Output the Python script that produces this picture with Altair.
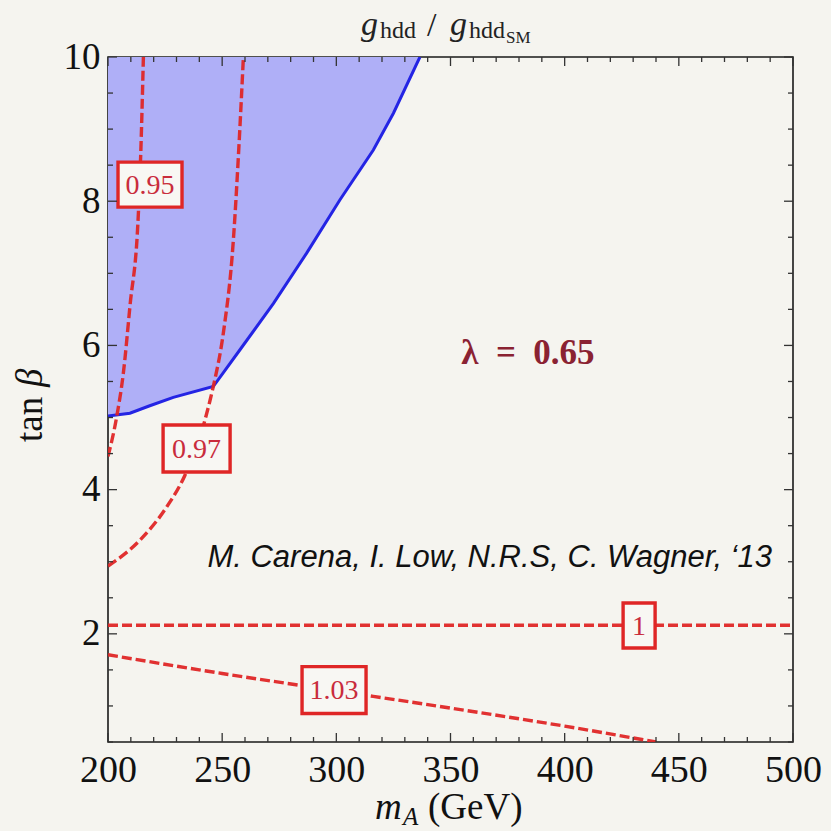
import altair as alt
import pandas as pd

# ---------------- data ----------------
# m_A (GeV) / tan(beta)
bound_x = [200, 209.6, 218, 228.6, 246.1, 257.8, 272.4, 287, 301.6, 316.2, 325, 336.6]
bound_y = [5.02, 5.06, 5.16, 5.28, 5.43, 5.94, 6.58, 7.28, 8.02, 8.71, 9.22, 10.0]

c095_x = [200, 203.8, 206.7, 209.6, 213.3, 214.3, 215.5]
c095_y = [4.46, 5.01, 5.61, 6.54, 7.83, 8.62, 10.0]

c097_x = [200, 214, 225.7, 233.7, 242.5, 244.7, 246.1, 250.5, 254.9, 257.1, 259.3]
c097_y = [2.94, 3.30, 3.76, 4.20, 4.97, 5.24, 5.43, 6.17, 7.46, 8.62, 10.0]

c100_x = [200, 500]
c100_y = [2.12, 2.12]

c103_x = [200, 250, 300, 350, 400, 440]
c103_y = [1.71, 1.45, 1.21, 0.97, 0.72, 0.5]

lab_text = ["0.95", "0.97", "1", "1.03"]
lab_x = [218.4, 238.8, 432.6, 299.0]
lab_y = [8.23, 4.57, 2.115, 1.22]

x_labels = [200, 250, 300, 350, 400, 450, 500]
y_labels = [2, 4, 6, 8, 10]
x_minor = [v for v in range(200, 501, 10) if v % 50 != 0]
y_minor = [v / 2 for v in range(1, 21) if v % 4 != 0]

title_parts = ["g", "hdd", "/", "g", "hdd", "SM"]

# ---------------- style ----------------
W = H = 685
BG = "#f5f4ef"
BLUE_FILL = "#afaff7"
BLUE_LINE = "#2424e4"
RED = "#df2626"
LABEL_RED = "#c92c3c"
SERIF = "Liberation Serif"
SANS = "Liberation Sans"

xs = alt.Scale(domain=[200, 500], nice=False, zero=False)
ys = alt.Scale(domain=[0.5, 10], nice=False, zero=False)

xaxis = alt.Axis(values=x_labels, title=None, ticks=False, domain=False, grid=False,
                 labelFont=SERIF, labelFontSize=38, labelColor="#111", format="d",
                 labelPadding=9, labelFlush=False, labelOverlap=False)
yaxis = alt.Axis(values=y_labels, title=None, ticks=False, domain=False, grid=False,
                 labelFont=SERIF, labelFontSize=37, labelColor="#111", format="d",
                 labelPadding=8, labelOverlap=False)

bound_df = pd.DataFrame({"x": bound_x, "y": bound_y})

curves = []
for name, xv, yv in [("0.95", c095_x, c095_y), ("0.97", c097_x, c097_y),
                     ("1", c100_x, c100_y), ("1.03", c103_x, c103_y)]:
    for i, (a, b) in enumerate(zip(xv, yv)):
        curves.append({"curve": name, "i": i, "x": a, "y": b})
curves_df = pd.DataFrame(curves)

lab_df = pd.DataFrame({"t": lab_text, "x": lab_x, "y": lab_y})

area = alt.Chart(bound_df).mark_area(color=BLUE_FILL, opacity=1, clip=True).encode(
    x=alt.X("x:Q", scale=xs, axis=xaxis),
    y=alt.Y("y:Q", scale=ys, axis=yaxis),
    y2=alt.datum(10),
)

bline = alt.Chart(bound_df).mark_line(color=BLUE_LINE, strokeWidth=3, clip=True).encode(
    x=alt.X("x:Q", scale=xs), y=alt.Y("y:Q", scale=ys)
)

red = alt.Chart(curves_df).mark_line(color=RED, strokeWidth=3.4, strokeDash=[10, 4],
                                     interpolate="monotone", clip=True, opacity=0.95).encode(
    x=alt.X("x:Q", scale=xs), y=alt.Y("y:Q", scale=ys),
    detail="curve:N", order="i:Q"
)

paths = [
    "M-1,-0.703L1,-0.703L1,0.703L-1,0.703Z",
    "M-1.047,-0.734L1.047,-0.734L1.047,0.734L-1.047,0.734Z",
    "M-0.5,-0.703L0.5,-0.703L0.5,0.703L-0.5,0.703Z",
    "M-1,-0.734L1,-0.734L1,0.734L-1,0.734Z",
]
boxes = alt.Chart(lab_df).mark_point(filled=False, fill="#f8f7f3", fillOpacity=1,
                                     stroke=RED, strokeWidth=3.4, opacity=1, size=4096).encode(
    x=alt.X("x:Q", scale=xs), y=alt.Y("y:Q", scale=ys),
    shape=alt.Shape("t:N", scale=alt.Scale(domain=lab_text, range=paths), legend=None),
)
box_text = alt.Chart(lab_df).mark_text(font=SERIF, fontSize=28, color=LABEL_RED,
                                       align="center", baseline="middle", dy=1).encode(
    x=alt.X("x:Q", scale=xs), y=alt.Y("y:Q", scale=ys), text="t:N"
)

lam = alt.Chart(pd.DataFrame({"t": ["λ\u2002=\u20020.65"], "x": [383.9], "y": [5.89]})).mark_text(
    font=SERIF, fontSize=35, fontWeight="bold", color="#8a2232", align="center", baseline="middle"
).encode(x=alt.X("x:Q", scale=xs), y=alt.Y("y:Q", scale=ys), text="t:N")

cite = alt.Chart(pd.DataFrame({"t": ["M. Carena, I. Low, N.R.S, C. Wagner, \u201813"],
                               "x": [490.8], "y": [3.05]})).mark_text(
    font=SANS, fontSize=31, fontStyle="italic", color="#111", align="right", baseline="middle"
).encode(x=alt.X("x:Q", scale=xs), y=alt.Y("y:Q", scale=ys), text="t:N")


def txt(s, x, y, size, style="normal", angle=0, color="#222", font=SERIF):
    kw = dict(font=font, fontSize=size, fontStyle=style, color=color,
              align="left", baseline="alphabetic")
    if angle:
        kw["angle"] = angle
    return alt.Chart(pd.DataFrame({"t": [s]})).mark_text(**kw).encode(
        x=alt.value(x), y=alt.value(y), text="t:N")


# title g_hdd / g_hdd,SM (above the frame)
title = [
    txt(title_parts[0], 253, -22, 34, "italic"),
    txt(title_parts[1], 272, -19, 24),
    txt(title_parts[2], 319, -21, 34),
    txt(title_parts[3], 342, -22, 34, "italic"),
    txt(title_parts[4], 361, -19, 24),
    txt(title_parts[5], 398, -14, 17),
]
# x title: m_A (GeV)
xtitle = [
    txt("m", 267, 762, 37, "italic", color="#111"),
    txt("A", 295, 768, 25, "italic", color="#111"),
    txt("(GeV)", 320, 762, 37, color="#111"),
]
# y title: tan beta (rotated)
ytitle = [
    txt("tan", -66, 385, 37, angle=270, color="#111"),
    txt("β", -66, 330, 37, "italic", angle=270, color="#111"),
]

TK = "#333"
xmaj = pd.DataFrame({"v": x_labels})
xmin = pd.DataFrame({"v": x_minor})
ymaj = pd.DataFrame({"v": y_labels})
ymin = pd.DataFrame({"v": y_minor})


def xt(df, y0, y1):
    return alt.Chart(df).mark_rule(color=TK, strokeWidth=1.3).encode(
        x=alt.X("v:Q", scale=xs), y=alt.value(y0), y2=alt.value(y1))


def yt(df, x0, x1):
    return alt.Chart(df).mark_rule(color=TK, strokeWidth=1.3).encode(
        y=alt.Y("v:Q", scale=ys), x=alt.value(x0), x2=alt.value(x1))


ticks = [
    xt(xmaj, H, H - 9), xt(xmin, H, H - 5), xt(xmaj, 0, 9), xt(xmin, 0, 5),
    yt(ymaj, 0, 9), yt(ymin, 0, 5), yt(ymaj, W, W - 9), yt(ymin, W, W - 5),
]

chart = alt.layer(area, bline, red, boxes, box_text, lam, cite, *ticks, *title, *xtitle, *ytitle).properties(
    width=W, height=H, background=BG,
    padding={"left": 108, "top": 57, "right": 38, "bottom": 89},
    autosize=alt.AutoSizeParams(type="none"),
).configure_view(stroke="#1a1a1a", strokeWidth=1.6, fill=BG)

chart.save("out.html", embed_options={"renderer": "svg", "actions": False})
